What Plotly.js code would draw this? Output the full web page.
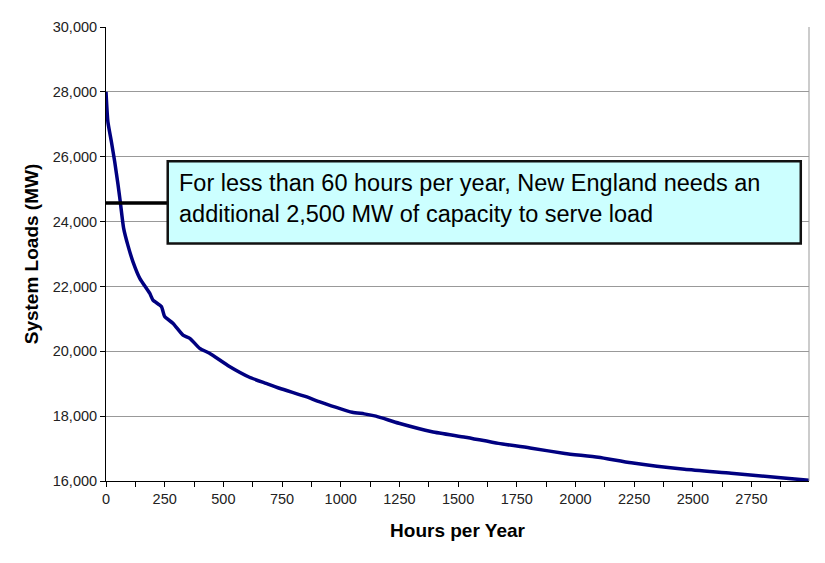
<!DOCTYPE html>
<html>
<head>
<meta charset="utf-8">
<script src="https://cdn.plot.ly/plotly-3.0.1.min.js"></script>
<style>
  html, body { margin: 0; padding: 0; background: #fff; }
  #chart { width: 825px; height: 563px; }
</style>
</head>
<body>
<div id="chart"></div>
<script>
// load duration curve
const hours = [0, 8, 23, 37, 51, 61, 75, 94, 115, 144, 186, 200, 236, 250, 286, 328, 357, 399, 441,
  526, 611, 682, 739, 852, 908, 1049, 1100, 1150, 1248, 1389, 1531, 1672, 1813, 1955, 2097, 2238,
  2465, 2663, 2875, 2995];
const loads = [28000, 27080, 26460, 25850, 25150, 24600, 23800, 23250, 22760, 22250, 21790, 21580,
  21380, 21070, 20860, 20500, 20400, 20090, 19940, 19530, 19200, 19010, 18860, 18600, 18450,
  18120, 18070, 18000, 17780, 17520, 17350, 17160, 17010, 16850, 16730, 16560, 16360, 16240,
  16100, 16020];

const xRange = [0, 2995];
const yRange = [16000, 30000];

const noteText = 'For less than 60 hours per year, New England needs an<br>additional 2,500 MW of capacity to serve load';
const noteLevel = 24570;   // MW where the pointer line sits
const noteBox = { x0: 263, x1: 2960, y0: 23320, y1: 25860 };

const font = 'Arial, "Liberation Sans", sans-serif';

const trace = {
    x: hours,
    y: loads,
    type: 'scatter',
    mode: 'lines',
    line: { color: '#000080', width: 3.5, shape: 'spline', smoothing: 0.5 },
    hoverinfo: 'skip'
};

const layout = {
    width: 825,
    height: 563,
    margin: { l: 106, r: 16, t: 27, b: 82 },
    paper_bgcolor: '#fff',
    plot_bgcolor: '#fff',
    showlegend: false,
    font: { family: font, color: '#111' },
    xaxis: {
        range: xRange,
        tick0: 0,
        dtick: 250,
        ticks: 'outside',
        ticklen: 5,
        tickcolor: '#000',
        showline: true,
        linecolor: '#000',
        linewidth: 1,
        showgrid: false,
        zeroline: false,
        tickfont: { size: 14.5, color: '#222' },
        minor: { dtick: 125, ticks: 'outside', ticklen: 5, tickcolor: '#000', showgrid: false },
        title: { text: '<b>Hours per Year</b>', font: { size: 19, color: '#000' }, standoff: 17 }
    },
    yaxis: {
        range: yRange,
        dtick: 2000,
        tickformat: ',d',
        ticks: 'outside',
        ticklen: 5,
        tickcolor: '#000',
        showline: true,
        linecolor: '#000',
        linewidth: 1,
        showgrid: true,
        gridcolor: '#999',
        gridwidth: 1,
        zeroline: false,
        tickfont: { size: 14.5, color: '#222' },
        title: { text: '<b>System Loads (MW)</b>', font: { size: 19, color: '#000' }, standoff: 9 }
    },
    shapes: [
        {   // right border of the plot area
            type: 'line', xref: 'paper', yref: 'paper',
            x0: 1, x1: 1, y0: 0, y1: 1,
            line: { color: '#999', width: 1 }
        },
        {   // pointer line
            type: 'line', xref: 'x', yref: 'y',
            x0: 0, x1: noteBox.x0 + 20, y0: noteLevel, y1: noteLevel,
            line: { color: '#000', width: 3.5 }
        },
        {   // note box
            type: 'rect', xref: 'x', yref: 'y',
            x0: noteBox.x0, x1: noteBox.x1, y0: noteBox.y0, y1: noteBox.y1,
            fillcolor: '#ccffff',
            line: { color: '#111', width: 2.5 }
        }
    ],
    annotations: [
        {
            x: noteBox.x0,
            y: (noteBox.y0 + noteBox.y1) / 2,
            xref: 'x', yref: 'y',
            xanchor: 'left', yanchor: 'middle',
            xshift: 9, yshift: 4,
            align: 'left',
            showarrow: false,
            text: noteText,
            font: { family: font, size: 23.5, color: '#000' }
        }
    ]
};

Plotly.newPlot('chart', [trace], layout, { displayModeBar: false, staticPlot: true });
</script>
</body>
</html>
